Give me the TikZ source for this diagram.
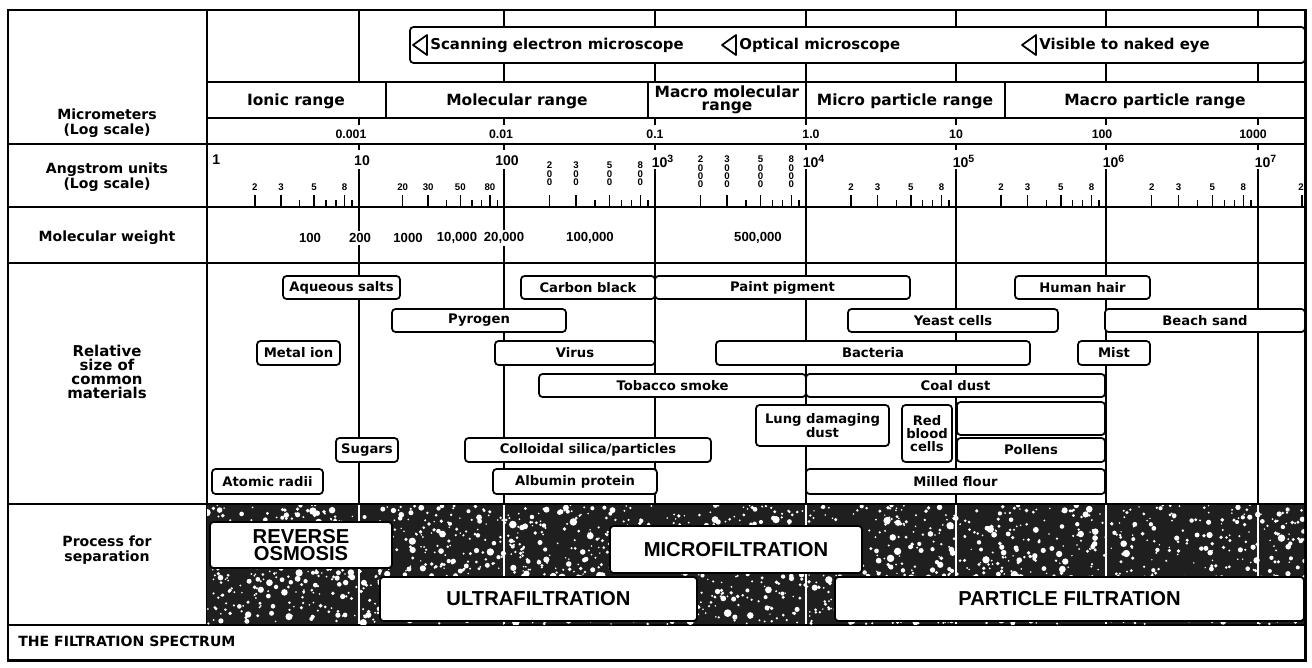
\documentclass[tikz,border=0pt]{standalone}
\usepackage{fontspec}
\setmainfont{DejaVu Sans}
\newfontfamily\numfont{Liberation Sans}
\usetikzlibrary{positioning}

\tikzset{
  frame/.style={line width=1.7pt},
  rule/.style={line width=1.1pt},
  tick/.style={line width=0.8pt},
  rowlabel/.style={font=\fontsize{8}{8.4}\selectfont\bfseries, align=center, inner sep=0pt},
  rangelabel/.style={font=\fontsize{8.8}{7.4}\selectfont\bfseries, align=center, inner sep=0pt},
  scopelabel/.style={font=\fontsize{8.5}{9}\selectfont\bfseries, anchor=west, inner sep=0pt},
  scopetri/.style={line width=1pt, line join=round},
  micronum/.style={font=\numfont\fontsize{7}{8}\selectfont\bfseries, inner sep=0pt},
  angnum/.style={font=\numfont\fontsize{8}{8}\selectfont\bfseries, inner sep=0pt},
  minlabel/.style={font=\numfont\fontsize{5.5}{4.8}\selectfont\bfseries, inner sep=0pt, align=center},
  weight/.style={font=\numfont\fontsize{7.5}{8}\selectfont\bfseries, fill=white, inner sep=1.5pt},
  outline/.style={rectangle, draw, fill=white, rounded corners=2pt, line width=1pt, inner sep=0pt},
  matbox/.style={outline, align=center, font=\fontsize{7.5}{7.3}\selectfont\bfseries},
  procbox/.style={outline, align=center, font=\numfont\fontsize{11.5}{10}\selectfont\bfseries}
}
% box from corner (#3,#4) to corner (#5,#6), in pixels of the plate
\newcommand{\platebox}[7][matbox]{%
  \node[#1, minimum width={(#5-#3)*0.02cm}, minimum height={(#6-#4)*0.02cm}]
    (#2) at ({(#3+#5)/2},{(#4+#6)/2}) {#7};}

\begin{document}
\begin{tikzpicture}[x=0.02cm, y=-0.02cm]
  \useasboundingbox (0,0) rectangle (1312,667);

  % frame and rules
  \draw[frame] (8,10) rectangle (1305,660);
  \draw[rule] (207,10) -- (207,625);
  \draw[rule] (207,82) -- (1305,82);
  \draw[rule] (207,118) -- (1305,118);
  \foreach \y in {144,207,263,504,625} \draw[rule] (8,\y) -- (1305,\y);
  \foreach \x in {359,504,655,806,956,1106,1258} {
    \draw[rule] (\x,10) -- (\x,82);
    \draw[rule] (\x,118) -- (\x,125);
    \draw[rule] (\x,144) -- (\x,150);
    \draw[rule] (\x,169) -- (\x,504);
  }
  \foreach \x in {386,648,806,1005} \draw[rule] (\x,82) -- (\x,118);

  % microscope strip
  \platebox[outline]{scope}{410}{27}{1305}{63}{}
  \draw[scopetri] (413,45) -- (427,35) -- (427,55) -- cycle;
  \node[scopelabel] (sem) at (430,45) {Scanning electron microscope};
  \draw[scopetri] (722,45) -- (736,35) -- (736,55) -- cycle;
  \node[scopelabel] (optical) at (739,45) {Optical microscope};
  \draw[scopetri] (1022,45) -- (1036,35) -- (1036,55) -- cycle;
  \node[scopelabel] (naked) at (1039,45) {Visible to naked eye};

  % row labels
  \node[rowlabel] (lblmicro) at (107,123) {Micrometers\\(Log scale)};
  \node[rowlabel] (lblang) at (107,177) {Angstrom units\\(Log scale)};
  \node[rowlabel] (lblmw) at (107,238) {Molecular weight};
  \node[rowlabel, font=\fontsize{8.5}{8}\selectfont\bfseries] (lblmat) at (107,372) {Relative\\size of\\common\\materials};
  \node[rowlabel] (lblproc) at (107,550) {Process for\\separation};
  \node[rowlabel, anchor=west] (title) at (18,641) {THE FILTRATION SPECTRUM};

  % ranges
  \node[rangelabel] (ionic) at (296,101) {Ionic range};
  \node[rangelabel] (molecular) at (517,101) {Molecular range};
  \node[rangelabel] (macromol) at (727,100) {Macro molecular\\range};
  \node[rangelabel] (microp) at (905,101) {Micro particle range};
  \node[rangelabel] (macrop) at (1155,101) {Macro particle range};

  % micrometers
  \foreach \x/\t [count=\i] in {351/0.001,501/0.01,655/0.1,811/1.0,956/10,1102/100,1253/1000}
    \node[micronum] (um\i) at (\x,134) {\t};

  % angstrom units
  \node[angnum, anchor=west] (ang0) at (212,160) {1};
  \foreach \x/\t [count=\i] in {362/10,507/100,663/10\textsuperscript{3},814/10\textsuperscript{4},
      964/10\textsuperscript{5},1114/10\textsuperscript{6},1266/10\textsuperscript{7}}
    \node[angnum] (ang\i) at (\x,161) {\t};
  \foreach \a/\b in {210/359,359/504,504/655,655/806,806/956,956/1106,1106/1258} {
    \foreach \m in {2,...,9} {
      \pgfmathsetmacro\tx{\a+(\b-\a)*log10(\m)}
      \draw[tick] (\tx,207) -- (\tx,200);
    }
    \foreach \m in {2,3,5,8} {
      \pgfmathsetmacro\tx{\a+(\b-\a)*log10(\m)}
      \draw[tick] (\tx,207) -- (\tx,195);
    }
  }
  \foreach \a/\b/\z [count=\i] in {210/359/,359/504/0,806/956/,956/1106/,1106/1258/} {
    \foreach \m in {2,3,5,8} {
      \pgfmathsetmacro\tx{\a+(\b-\a)*log10(\m)}
      \node[minlabel] (mn\i-\m) at (\tx,187) {\m\z};
    }
  }
  \foreach \m in {2,3,5,8} {
    \pgfmathsetmacro\tx{504+151*log10(\m)}
    \node[minlabel] (hund\m) at (\tx,174) {\m\\0\\0};
    \pgfmathsetmacro\tx{655+151*log10(\m)}
    \node[minlabel] (thou\m) at (\tx,172) {\m\\0\\0\\0};
  }
  \draw[tick] (1302,207) -- (1302,195);
  \node[minlabel] (mnlast) at (1301,187) {2};

  % molecular weight
  \foreach \x/\t [count=\i] in {310/100,360/200,408/1000,457/{10,000},504/{20,000},590/{100,000},758/{500,000}}
    \node[weight] (mw\i) at (\x,238) {\t};

  % common materials
  \platebox{aqueous}{283}{276}{400}{299}{Aqueous salts}
  \platebox{carbon}{521}{276}{655}{299}{Carbon black}
  \platebox{paint}{655}{276}{910}{299}{Paint pigment}
  \platebox{hair}{1015}{276}{1150}{299}{Human hair}
  \platebox{pyrogen}{392}{309}{566}{332}{Pyrogen}
  \platebox{yeast}{848}{309}{1058}{332}{Yeast cells}
  \platebox{sand}{1105}{309}{1305}{332}{Beach sand}
  \platebox{metal}{257}{341}{340}{365}{Metal ion}
  \platebox{virus}{495}{341}{655}{365}{Virus}
  \platebox{bacteria}{716}{341}{1030}{365}{Bacteria}
  \platebox{mist}{1078}{341}{1150}{365}{Mist}
  \platebox{tobacco}{539}{374}{806}{397}{Tobacco smoke}
  \platebox{coal}{806}{374}{1105}{397}{Coal dust}
  \platebox{lung}{756}{405}{889}{446}{Lung damaging\\dust}
  \platebox{rbc}{902}{405}{952}{462}{Red\\blood\\cells}
  \platebox{spare}{957}{402}{1105}{435}{}
  \platebox{pollens}{957}{438}{1105}{462}{Pollens}
  \platebox{sugars}{336}{438}{398}{462}{Sugars}
  \platebox{colloid}{465}{438}{711}{462}{Colloidal silica/particles}
  \platebox{atomic}{212}{469}{323}{494}{Atomic radii}
  \platebox{albumin}{493}{469}{657}{494}{Albumin protein}
  \platebox{flour}{806}{469}{1105}{494}{Milled flour}

  % separation processes on a speckled ground
  \begin{scope}
    \clip (207,505) rectangle (1304,624);
    \fill[black!88] (207,505) rectangle (1304,624);
    \pgfmathsetseed{11}
    \foreach \k in {1,...,2000} {
      \pgfmathsetmacro\sx{207+1098*rnd}
      \pgfmathsetmacro\sy{505+119*rnd}
      \pgfmathsetmacro\sr{0.8+3.2*rnd*rnd}
      \fill[white] (\sx,\sy) circle[radius=\sr];
    }
    \foreach \x in {359,504,806,956,1106,1258}
      \draw[white, line width=1.6pt] (\x,505) -- (\x,624);
  \end{scope}
  \platebox[procbox]{ro}{210}{522}{392}{568}{REVERSE\\OSMOSIS}
  \platebox[procbox]{mf}{610}{526}{862}{573}{MICROFILTRATION}
  \platebox[procbox]{uf}{380}{577}{697}{621}{ULTRAFILTRATION}
  \platebox[procbox]{pf}{835}{577}{1304}{621}{PARTICLE FILTRATION}
\end{tikzpicture}
\end{document}
